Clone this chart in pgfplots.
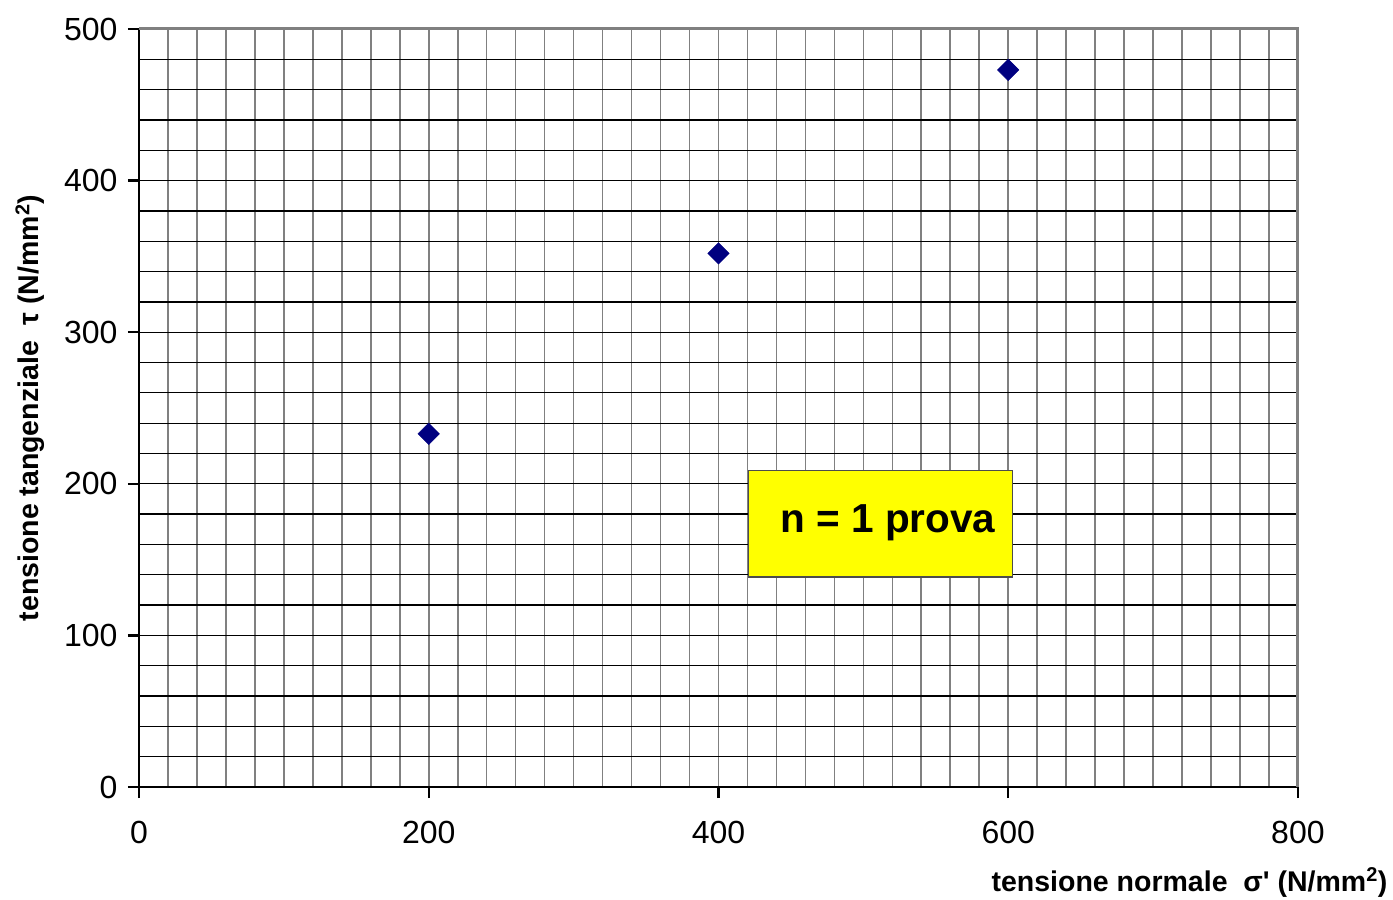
\documentclass[border=0pt]{standalone}
\usepackage{pgfplots}
\pgfplotsset{compat=1.18}
\usepackage{fontspec}
\setmainfont{Liberation Sans}
\definecolor{gridgray}{HTML}{808080}
\definecolor{marknavy}{HTML}{000080}
\definecolor{boxyellow}{HTML}{FFFF00}
\begin{document}
\begin{tikzpicture}[x=1pt,y=1pt]
\useasboundingbox (-139,-113) rectangle (1254,787);
\begin{axis}[
  at={(0,0)}, anchor=south west,
  scale only axis, width=1159pt, height=758pt,
  xmin=0, xmax=800, ymin=0, ymax=500,
  xtick={0,200,...,800}, ytick={0,100,...,500},
  minor x tick num=9, minor y tick num=4,
  grid=both,
  major x grid style={gridgray, line width=1.6pt},
  minor x grid style={gridgray, line width=1.6pt},
  major y grid style={black, line width=1.3pt},
  minor y grid style={black, line width=1.3pt},
  axis lines*=left,
  axis line style={-, black, line width=2.4pt},
  tick align=outside,
  major tick length=11pt, minor tick length=0pt,
  tick style={black, line width=2.4pt},
  /pgf/number format/assume math mode=true,
  ticklabel style={font=\fontsize{32}{38}\selectfont},
  xticklabel style={yshift=-20pt},
  yticklabel style={xshift=-7pt},
  xlabel={\textbf{tensione normale\ \ σ\textquotesingle\ (N/mm\textsuperscript{2})}},
  ylabel={\textbf{tensione tangenziale\ \ τ (N/mm\textsuperscript{2})}},
  label style={font=\fontsize{28.5}{34}\selectfont},
  xlabel style={at={(axis description cs:1,0)}, anchor=base east, xshift=93pt, yshift=-104pt},
  ylabel style={at={(axis description cs:-0.094,0.5)}, anchor=center},
  clip=false,
]
% frame on the top and right sides
\draw[gridgray, line width=3pt] (rel axis cs:0,1) -- (rel axis cs:1,1) -- (rel axis cs:1,0);
% measured points
\addplot[only marks, mark=square*, mark size=7.6pt,
  mark options={rotate=45, fill=marknavy, draw=marknavy}]
  coordinates {(200,233) (400,352) (600,473)};
% note box
\draw[fill=boxyellow, draw=black!70, line width=1.2pt]
  (axis cs:421,138.5) rectangle (axis cs:603,209);
\node[font=\fontsize{40.5}{46}\selectfont\bfseries] at (axis cs:517,174.5) {n = 1 prova};
\end{axis}
\end{tikzpicture}
\end{document}
